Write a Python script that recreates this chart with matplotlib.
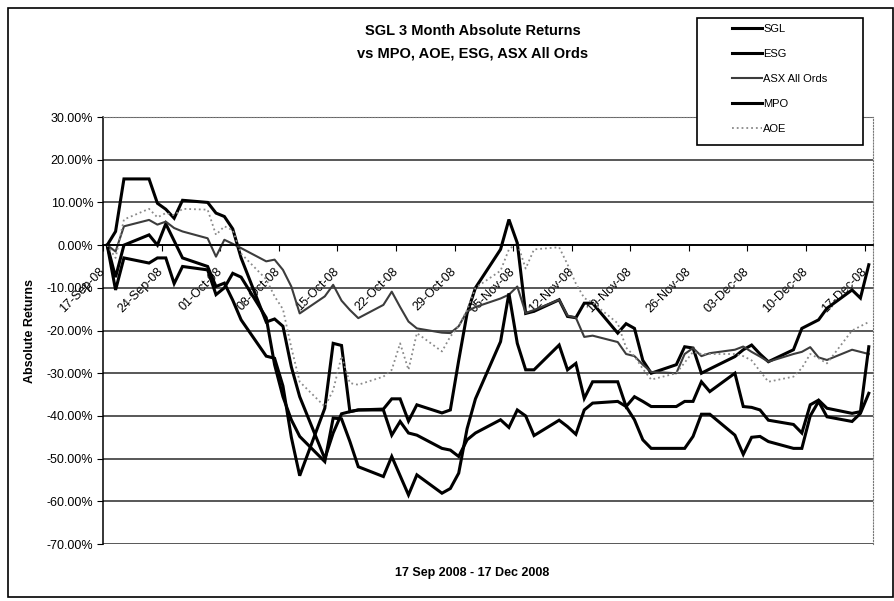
import matplotlib
matplotlib.use("Agg")
import matplotlib.pyplot as plt
from matplotlib.patches import Rectangle
import pandas as pd

plt.rcParams['font.family'] = ['Liberation Sans', 'DejaVu Sans']

# trading days, 17 Sep 2008 - 17 Dec 2008
trade_days = [
    '2008-09-17', '2008-09-18', '2008-09-19', '2008-09-22', '2008-09-23',
    '2008-09-24', '2008-09-25', '2008-09-26', '2008-09-29', '2008-09-30',
    '2008-10-01', '2008-10-02', '2008-10-03', '2008-10-06', '2008-10-07',
    '2008-10-08', '2008-10-09', '2008-10-10', '2008-10-13', '2008-10-14',
    '2008-10-15', '2008-10-16', '2008-10-17', '2008-10-20', '2008-10-21',
    '2008-10-22', '2008-10-23', '2008-10-24', '2008-10-27', '2008-10-28',
    '2008-10-29', '2008-10-30', '2008-10-31',
    '2008-11-03', '2008-11-04', '2008-11-05', '2008-11-06', '2008-11-07',
    '2008-11-10', '2008-11-11', '2008-11-12', '2008-11-13', '2008-11-14',
    '2008-11-17', '2008-11-18', '2008-11-19', '2008-11-20', '2008-11-21',
    '2008-11-24', '2008-11-25', '2008-11-26', '2008-11-27', '2008-11-28',
    '2008-12-01', '2008-12-02', '2008-12-03', '2008-12-04', '2008-12-05',
    '2008-12-08', '2008-12-09', '2008-12-10', '2008-12-11', '2008-12-12',
    '2008-12-15', '2008-12-16', '2008-12-17',
]

# absolute returns in %
sgl = [0, -7.5, 0, 2.4, 0, 5, 1, -3, -5, -9.7,
       -8.9, -12.9, -17.5, -26, -26.5, -33, -45, -54, -38.2, -23, -23.5, -39, -38.6,
       -38.4, -36, -36, -41.2, -37.4, -39.3, -38.6, -27, -16, -10,
       -1, 6, 0.5, -16, -15.5, -12.8, -16.7, -17, -13.6, -13.6,
       -20.6, -18.4, -19.5, -27, -30, -28, -23.8, -24.1, -30, -29,
       -26.1, -24.5, -23.4, -25.5, -27.3, -24.5, -19.5, -18.5, -17.5, -14.8,
       -10.5, -12.4, -4.6]
esg = [0, 3.2, 15.5, 15.5, 9.8, 8.4, 6.3, 10.5, 10.0, 7.5,
       6.7, 3.8, -3, -18, -17.3, -19, -28.5, -35.5, -50, -44, -39.5, -39, -38.6,
       -38.6, -44.5, -41.3, -44, -44.5, -47.6, -48, -49.5, -45.6, -44,
       -40.9, -42.7, -38.6, -40, -44.6, -41, -42.5, -44.3, -38.6, -37,
       -36.6, -37.8, -40.9, -45.6, -47.6, -47.6, -47.6, -44.8, -39.6, -39.6,
       -44.5, -49, -45, -44.8, -46, -47.6, -47.6, -40, -36.6, -40.2,
       -41.3, -39.4, -34.7]
asx = [0, -1.5, 4.4, 5.9, 4.8, 5.5, 4, 3.2, 1.6, -2.7,
       1.25, 0.3, -0.7, -3.8, -3.4, -5.8, -9.7, -16, -12, -9.3, -13, -15.2, -17.1,
       -14, -10.9, -14.5, -17.9, -19.5, -20.5, -20.6, -19, -15.5, -14.5,
       -12.5, -11.6, -9.7, -15.9, -15.2, -12.8, -16.5, -17, -21.5, -21.2,
       -22.7, -25.5, -26, -28, -29.7, -30, -25.5, -24.1, -26, -25.3,
       -24.5, -23.75, -25, -26.1, -27.3, -25.5, -25, -23.9, -26.3, -26.9,
       -24.5, -25, -25.5]
mpo = [0, -10.5, -3, -4.2, -3, -3, -9, -5, -5.8, -11.6,
       -10, -6.6, -7.5, -17, -28, -35.5, -40.9, -44.8, -50.7, -40.5, -40.7, -46, -51.9,
       -54.2, -49.5, -54, -58.5, -53.8, -58.1, -57, -53.4, -43, -36,
       -22.6, -11.3, -23, -29.2, -29.2, -23.4, -29.2, -27.7, -35.9, -32,
       -32, -37.8, -35.5, -36.6, -37.8, -37.8, -36.6, -36.6, -32, -34.3,
       -30, -37.8, -38, -38.6, -41, -42, -44, -37.4, -36.3, -38.2,
       -39.4, -39, -23.8]
aoe = [0, -3, 6, 8.5, 6.5, 7.5, 7, 8.5, 8.3, 2.4,
       4.4, 3.5, -2, -8, -12, -15, -24, -32, -37.8, -34, -26, -32.3, -32.7,
       -30.8, -29.2, -23, -29.2, -20.6, -24.9, -21.4, -19, -15.2, -10,
       -6, -1, 0.5, -5.5, -1, -0.5, -4.5, -9, -12.4, -13.5,
       -18.3, -24, -26, -29, -31.5, -30, -27.5, -25, -25.5, -25.5,
       -25.5, -26, -27, -29.5, -32, -30.8, -28.8, -25.5, -26.5, -27.7,
       -20, -19, -18]

start = pd.Timestamp('2008-09-17')
x = [(pd.Timestamp(d) - start).days + 0.5 for d in trade_days]

tick_dates = pd.date_range('2008-09-17', '2008-12-17', freq='7D')
tick_pos = [(d - start).days for d in tick_dates]
tick_labels = [d.strftime('%d-%b-%y') for d in tick_dates]

fig = plt.figure(figsize=(8.95, 6.01), dpi=100)
ax = fig.add_axes([0.1151, 0.0948, 0.8603, 0.7105])

thick = dict(color='black', lw=2.2, solid_joinstyle='miter')
ax.plot(x, sgl, label='SGL', **thick)
ax.plot(x, esg, label='ESG', **thick)
ax.plot(x, asx, label='ASX All Ords', color='#3c3c3c', lw=1.5)
ax.plot(x, mpo, label='MPO', **thick)
ax.plot(x, aoe, label='AOE', color='#8a8a8a', lw=1.3, ls=':')

ax.set_xlim(0, 92)
ax.set_ylim(-70, 30)
ax.set_yticks(range(-70, 31, 10))
ax.set_yticklabels([f'{v:.2f}%' for v in range(-70, 31, 10)], fontsize=9)
ax.yaxis.grid(True, color='#2a2a2a', lw=1.1)
ax.set_axisbelow(True)

ax.spines['bottom'].set_position(('data', 0))
ax.spines['bottom'].set_linewidth(1.3)
ax.spines['left'].set_linewidth(1.1)
for s in ['top', 'right']:
    ax.spines[s].set_color('#777777')
    ax.spines[s].set_linestyle(':')
ax.set_xticks(tick_pos)
ax.set_xticklabels(tick_labels, rotation=45, ha='right', va='center',
                   rotation_mode='anchor', fontsize=9)
ax.tick_params(axis='x', direction='out', length=4, pad=14)
ax.tick_params(axis='y', direction='out', length=4, pad=3)

ax.set_ylabel('Absolute Returns', fontsize=9, fontweight='bold', labelpad=8)
fig.text(0.528, 1 - 573 / 601, '17 Sep 2008 - 17 Dec 2008', ha='center', va='center',
         fontsize=9, fontweight='bold')
fig.text(0.528, 1 - 31 / 601, 'SGL 3 Month Absolute Returns', ha='center', va='center',
         fontsize=10.5, fontweight='bold')
fig.text(0.528, 1 - 54 / 601, 'vs MPO, AOE, ESG, ASX All Ords', ha='center', va='center',
         fontsize=10.5, fontweight='bold')

# legend box
fig.patches.append(Rectangle((697 / 895, 1 - 145 / 601), 166 / 895, 127 / 601,
                             transform=fig.transFigure, facecolor='white',
                             edgecolor='black', lw=1.2, zorder=5))
leg = fig.legend(loc='upper left', bbox_to_anchor=(722 / 895, 1 - 14 / 601),
                 frameon=False, fontsize=8, handlelength=2.7, handletextpad=0.1,
                 labelspacing=1.35)
leg.set_zorder(6)

# chart area border
fig.patches.append(Rectangle((8 / 895, 4 / 601), 885 / 895, 589 / 601,
                             transform=fig.transFigure, fill=False,
                             edgecolor='black', lw=1.2))

fig.savefig('out.png', dpi=100)
